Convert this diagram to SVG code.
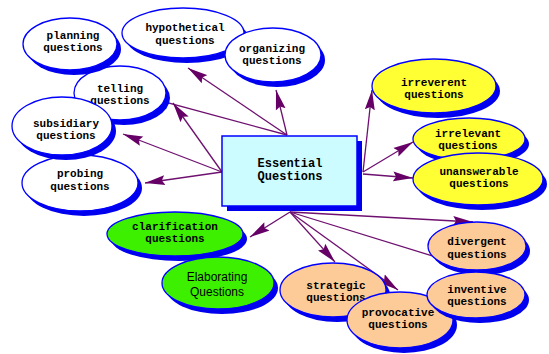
<svg xmlns="http://www.w3.org/2000/svg" width="549" height="354" viewBox="0 0 549 354">
<defs>
<marker id="ah" markerUnits="userSpaceOnUse" markerWidth="22" markerHeight="11" refX="20" refY="5.5" orient="auto">
<path d="M0,0.5 L20,5.5 L0,10.5 L3,5.5 z" fill="#660066"/>
</marker>
</defs>
<style>
.c line{stroke:#6e1070;stroke-width:1.3;marker-end:url(#ah)}
.sh{fill:#0000ee}
.e{stroke:#0000ff;stroke-width:1.3}
.w{fill:#ffffff}
.y{fill:#ffff33}
.g{fill:#3cf000}
.p{fill:#fccb98}
text{font-family:"Liberation Mono","DejaVu Sans Mono",monospace;font-size:11px;font-weight:bold;fill:#000;text-anchor:middle}
.big{font-size:12px}
.sans{font-family:"Liberation Sans",Arial,sans-serif;font-size:12px;font-weight:normal}
</style>
<rect width="549" height="354" fill="#ffffff"/>
<g id="connectors" class="c">
<line x1="287" y1="135" x2="80" y2="79"/>
<line x1="287" y1="135" x2="188" y2="68"/>
<line x1="287" y1="135" x2="276" y2="90"/>
<line x1="222" y1="172" x2="173" y2="103"/>
<line x1="222" y1="172" x2="123" y2="134"/>
<line x1="222" y1="172" x2="145" y2="183"/>
<line x1="363" y1="172" x2="372" y2="90"/>
<line x1="363" y1="172" x2="413" y2="142"/>
<line x1="363" y1="174" x2="413" y2="178"/>
<line x1="290" y1="212" x2="250" y2="237"/>
<line x1="290" y1="212" x2="335" y2="262"/>
<line x1="290" y1="212" x2="398" y2="290"/>
<line x1="290" y1="212" x2="473" y2="222"/>
<line x1="290" y1="212" x2="478" y2="270"/>
</g>
<g id="hypothetical">
<ellipse class="sh" cx="187" cy="38" rx="61" ry="25"/>
<ellipse class="e w" cx="183" cy="33" rx="61" ry="25"/>
<text x="185" y="31">hypothetical</text><text x="185" y="44">questions</text>
</g>
<g id="organizing">
<ellipse class="sh" cx="277" cy="60" rx="48" ry="27"/>
<ellipse class="e w" cx="273" cy="55" rx="48" ry="27"/>
<text x="272" y="52">organizing</text><text x="272" y="64">questions</text>
</g>
<g id="telling">
<ellipse class="sh" cx="124" cy="98" rx="46" ry="27"/>
<ellipse class="e w" cx="120" cy="93" rx="46" ry="27"/>
<text x="120" y="92">telling</text><text x="120" y="104">questions</text>
</g>
<g id="planning">
<ellipse class="sh" cx="74" cy="49" rx="47" ry="26"/>
<ellipse class="e w" cx="70" cy="44" rx="47" ry="26"/>
<text x="73" y="39">planning</text><text x="73" y="51">questions</text>
</g>
<g id="probing">
<ellipse class="sh" cx="84" cy="188" rx="58" ry="28"/>
<ellipse class="e w" cx="80" cy="183" rx="58" ry="28"/>
<text x="80" y="177">probing</text><text x="80" y="190">questions</text>
</g>
<g id="subsidiary">
<ellipse class="sh" cx="66" cy="131" rx="50" ry="29"/>
<ellipse class="e w" cx="62" cy="126" rx="50" ry="29"/>
<text x="66" y="127">subsidiary</text><text x="66" y="139">questions</text>
</g>
<g id="irreverent">
<ellipse class="sh" cx="438" cy="91" rx="62" ry="27"/>
<ellipse class="e y" cx="434" cy="86" rx="62" ry="27"/>
<text x="434" y="86">irreverent</text><text x="434" y="98">questions</text>
</g>
<g id="irrelevant">
<ellipse class="sh" cx="473" cy="144" rx="56" ry="21"/>
<ellipse class="e y" cx="469" cy="139" rx="56" ry="21"/>
<text x="468" y="137">irrelevant</text><text x="468" y="149">questions</text>
</g>
<g id="unanswerable">
<ellipse class="sh" cx="482" cy="184" rx="65" ry="26"/>
<ellipse class="e y" cx="478" cy="179" rx="65" ry="26"/>
<text x="479" y="175">unanswerable</text><text x="479" y="187">questions</text>
</g>
<g id="clarification">
<ellipse class="sh" cx="179" cy="239" rx="68" ry="22"/>
<ellipse class="e g" cx="175" cy="234" rx="68" ry="22"/>
<text x="175" y="230">clarification</text><text x="175" y="242">questions</text>
</g>
<g id="elaborating">
<ellipse class="sh" cx="222" cy="288" rx="56" ry="26"/>
<ellipse class="e g" cx="218" cy="283" rx="56" ry="26"/>
<text class="sans" x="217" y="281">Elaborating</text><text class="sans" x="217" y="296">Questions</text>
</g>
<g id="strategic">
<ellipse class="sh" cx="337" cy="295" rx="53" ry="27"/>
<ellipse class="e p" cx="333" cy="290" rx="53" ry="27"/>
<text x="336" y="289">strategic</text><text x="336" y="301">questions</text>
</g>
<g id="divergent">
<ellipse class="sh" cx="481" cy="251" rx="49" ry="24"/>
<ellipse class="e p" cx="477" cy="246" rx="49" ry="24"/>
<text x="477" y="245">divergent</text><text x="477" y="258">questions</text>
</g>
<g id="provocative">
<ellipse class="sh" cx="404" cy="325" rx="53" ry="28"/>
<ellipse class="e p" cx="400" cy="320" rx="53" ry="28"/>
<text x="398" y="316">provocative</text><text x="398" y="328">questions</text>
</g>
<g id="inventive">
<ellipse class="sh" cx="480" cy="300" rx="49" ry="23"/>
<ellipse class="e p" cx="476" cy="295" rx="49" ry="23"/>
<text x="477" y="293">inventive</text><text x="477" y="305">questions</text>
</g>
<g id="essential">
<rect x="227" y="141" width="135" height="70" fill="#0000ee"/>
<rect x="222" y="136" width="135" height="70" fill="#ccfcff" stroke="#0000ff" stroke-width="1.5"/>
<text class="big" x="290" y="167">Essential</text><text class="big" x="290" y="180">Questions</text>
</g>
</svg>
